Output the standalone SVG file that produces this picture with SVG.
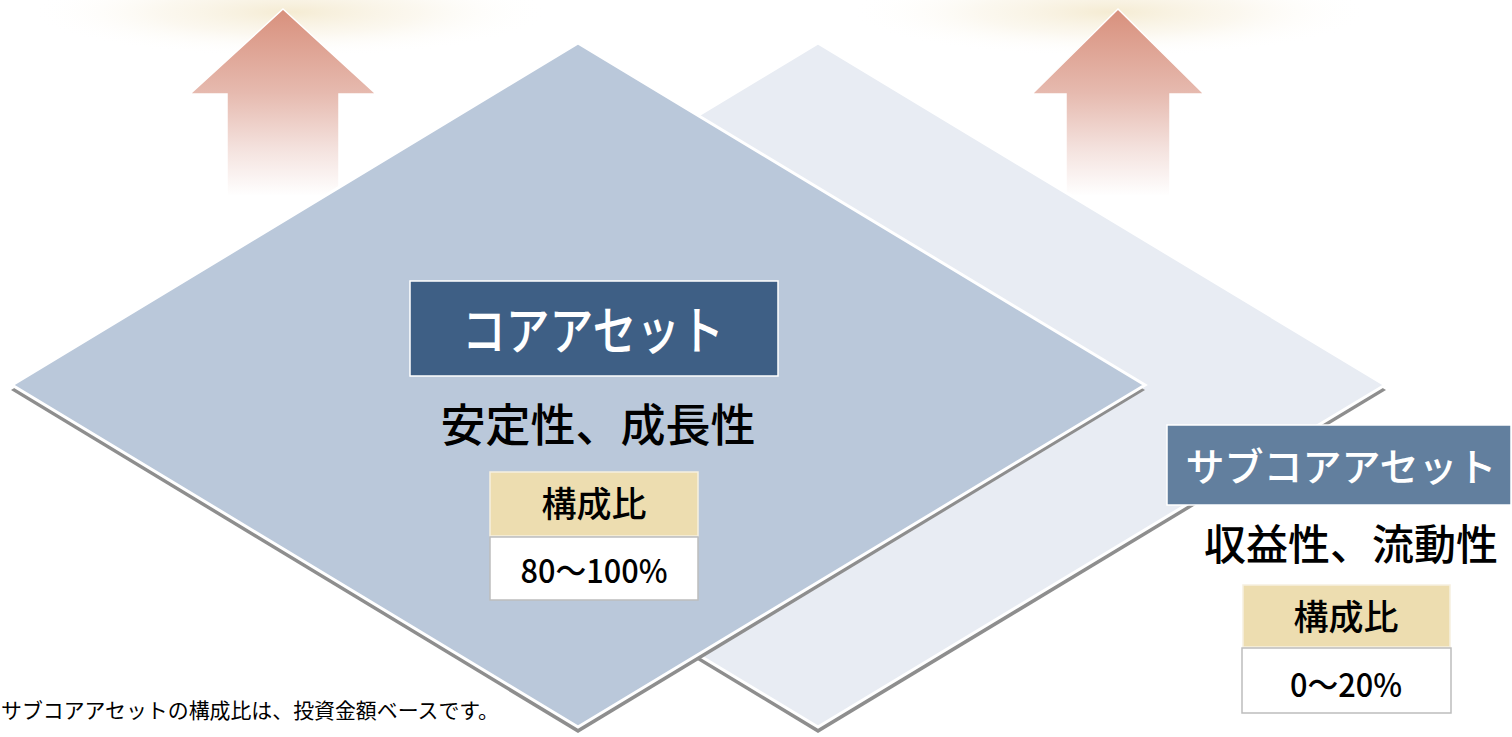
<svg xmlns="http://www.w3.org/2000/svg" width="1512" height="737" viewBox="0 0 1512 737">
  <defs>
    <linearGradient id="arrowGrad" gradientUnits="userSpaceOnUse" x1="0" y1="9" x2="0" y2="196">
      <stop offset="0" stop-color="#D8907C"/>
      <stop offset="0.45" stop-color="#E6BAAF"/>
      <stop offset="0.75" stop-color="#F4E2DE"/>
      <stop offset="1" stop-color="#FFFFFF"/>
    </linearGradient>
    <radialGradient id="glow" cx="0.5" cy="0.5" r="0.5">
      <stop offset="0" stop-color="#F3E8CB" stop-opacity="0.85"/>
      <stop offset="0.5" stop-color="#F8F1E0" stop-opacity="0.5"/>
      <stop offset="1" stop-color="#FFFFFF" stop-opacity="0"/>
    </radialGradient>
    <style>
      .jp { font-family: "Noto Sans CJK JP", "Noto Sans", sans-serif; }
      .arrow { fill: url(#arrowGrad); stroke: #FFFFFF; stroke-width: 1.5; }
      .shadow { fill: #8E8E8E; }
      .label { fill: #FFFFFF; text-anchor: middle; font-weight: 500; }
      .body { fill: #000000; text-anchor: middle; font-weight: 500; }
      .ratioHead { fill: #EDDDB0; stroke: #F6F0E0; stroke-width: 1.5; }
      .ratioVal { fill: #FFFFFF; stroke: #BDBDBD; stroke-width: 1.5; }
    </style>
  </defs>
  <rect x="0" y="0" width="1512" height="737" fill="#FFFFFF"/>

  <g id="glows">
    <ellipse cx="290" cy="12" rx="260" ry="45" fill="url(#glow)"/>
    <ellipse cx="1110" cy="12" rx="260" ry="45" fill="url(#glow)"/>
  </g>

  <g id="arrow-left">
    <polygon class="arrow" points="283,9 376,94 339,94 339,200 227,200 227,94 190,94"/>
  </g>
  <g id="arrow-right">
    <polygon class="arrow" points="1118,9 1204,94 1170,94 1170,200 1066,200 1066,94 1032,94"/>
  </g>

  <g id="subcore-plane">
    <polygon class="shadow" points="818,49 1386,390 818,733 251,390"/>
    <polygon points="818,43 1385,385 818,727 251,385" fill="#E8ECF3" stroke="#FFFFFF" stroke-width="3"/>
  </g>

  <g id="core-plane">
    <polygon class="shadow" points="578,49 1145,390 578,733 11,390"/>
    <polygon points="578,43 1145,385 578,727 12,385" fill="#BAC8DA" stroke="#FFFFFF" stroke-width="3"/>
  </g>

  <g id="core-node">
    <rect x="410" y="281" width="368" height="95" fill="#3E5F85" stroke="#FFFFFF" stroke-width="1.5"/>
    <text class="jp label" x="593" y="350" font-size="52" textLength="262" lengthAdjust="spacingAndGlyphs">コアアセット</text>
    <text class="jp body" x="598" y="442" font-size="45">安定性、成長性</text>
    <rect class="ratioHead" x="490" y="472" width="208" height="64"/>
    <text class="jp body" x="594" y="517" font-size="35">構成比</text>
    <rect class="ratioVal" x="490" y="537" width="208" height="63"/>
    <text class="jp body" x="594" y="583" font-size="33" textLength="147" lengthAdjust="spacingAndGlyphs">80〜100%</text>
  </g>

  <g id="subcore-node">
    <rect x="1167" y="425" width="344" height="80" fill="#627F9E" stroke="#FFFFFF" stroke-width="1.5"/>
    <text class="jp label" x="1341" y="481" font-size="39">サブコアアセット</text>
    <text class="jp body" x="1351" y="560" font-size="42">収益性、流動性</text>
    <rect class="ratioHead" x="1243" y="585" width="207" height="62"/>
    <text class="jp body" x="1346" y="630" font-size="35">構成比</text>
    <rect class="ratioVal" x="1242" y="648" width="209" height="65"/>
    <text class="jp body" x="1346" y="697" font-size="33" textLength="112" lengthAdjust="spacingAndGlyphs">0〜20%</text>
  </g>

  <g id="footnote">
    <text class="jp" x="1" y="718" font-size="21" fill="#000000" textLength="498" lengthAdjust="spacingAndGlyphs">サブコアアセットの構成比は、投資金額ベースです。</text>
  </g>

  <g id="connectors"></g>
</svg>
